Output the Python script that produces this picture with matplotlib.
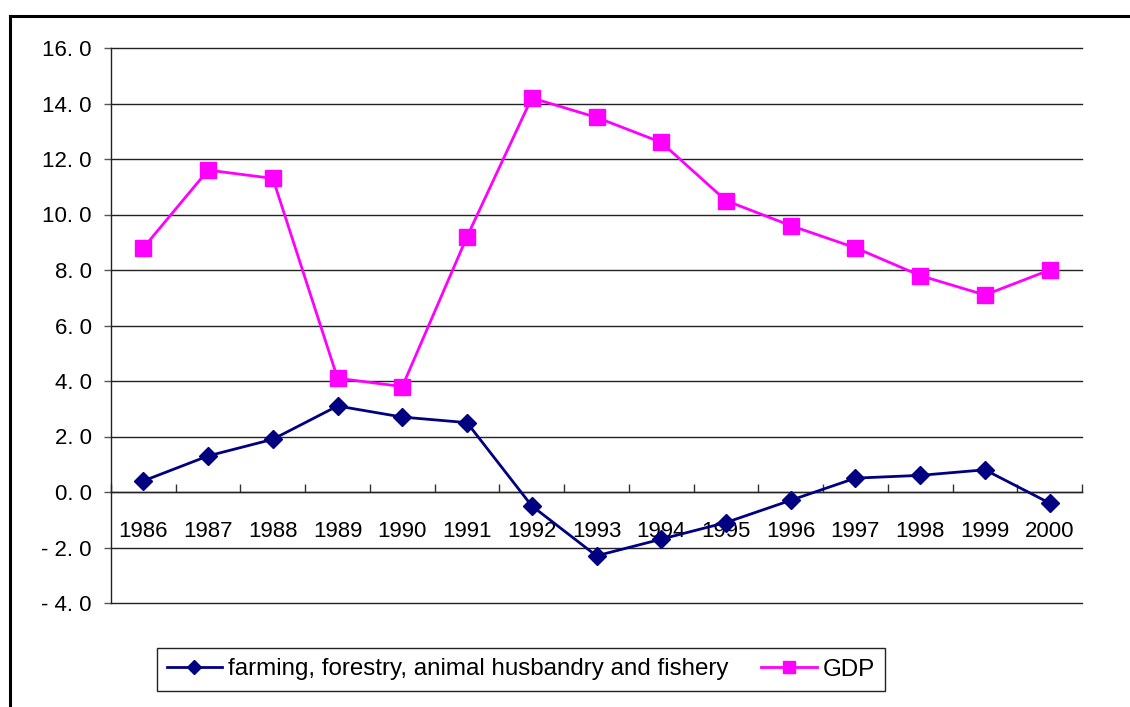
import matplotlib
matplotlib.use("Agg")
import matplotlib.pyplot as plt
from matplotlib.lines import Line2D

plt.rcParams["font.family"] = ["Liberation Sans", "DejaVu Sans"]

years = ["1986", "1987", "1988", "1989", "1990", "1991", "1992", "1993",
         "1994", "1995", "1996", "1997", "1998", "1999", "2000"]
farming = [0.4, 1.3, 1.9, 3.1, 2.7, 2.5, -0.5, -2.3, -1.7, -1.1, -0.3, 0.5, 0.6, 0.8, -0.4]
gdp = [8.8, 11.6, 11.3, 4.1, 3.8, 9.2, 14.2, 13.5, 12.6, 10.5, 9.6, 8.8, 7.8, 7.1, 8.0]
y_ticks = [-4.0, -2.0, 0.0, 2.0, 4.0, 6.0, 8.0, 10.0, 12.0, 14.0, 16.0]

W, H = 1130, 707


def fmt(v):
    s = f"{abs(v):.1f}".replace(".", ". ")
    return ("- " + s) if v < 0 else s


def main():
    fig = plt.figure(figsize=(W / 100, H / 100), dpi=100)
    ax = fig.add_axes([111 / W, (H - 603) / H, 971 / W, 555 / H])

    x = list(range(len(years)))
    ax.plot(x, farming, color="#000080", lw=2.0, marker="D", ms=9,
            label="farming, forestry, animal husbandry and fishery", zorder=3)
    ax.plot(x, gdp, color="#FF00FF", lw=2.0, marker="s", ms=11.5,
            label="GDP", zorder=3)

    ax.set_xlim(-0.5, len(years) - 0.5)
    ax.set_ylim(-4, 16)

    # horizontal grid
    ax.set_yticks(y_ticks)
    ax.set_yticklabels([fmt(v) for v in y_ticks], fontsize=16)
    ax.yaxis.grid(True, color="#222222", lw=1.0)
    for gl in ax.get_ygridlines():
        gl.set_clip_on(False)
    ax.set_axisbelow(True)
    ax.tick_params(axis="y", length=5, width=1.0, color="#555555", pad=9)

    # category axis sits on the zero line
    ax.spines["bottom"].set_position(("data", 0))
    ax.spines["top"].set_visible(False)
    ax.spines["right"].set_visible(False)
    for s in ("bottom", "left"):
        ax.spines[s].set_color("#222222")
        ax.spines[s].set_linewidth(1.0)
    ax.set_xticks([i - 0.5 for i in range(len(years) + 1)])
    ax.set_xticklabels([])
    ax.set_xticks(x, minor=True)
    ax.set_xticklabels(years, minor=True, fontsize=16)
    ax.tick_params(axis="x", which="major", direction="in", length=6,
                   width=1.0, color="#333333")
    ax.tick_params(axis="x", which="minor", length=0, pad=21)

    fig.legend(loc="center", bbox_to_anchor=(521 / W, (H - 669.5) / H),
               ncol=2, fontsize=17.4, frameon=True, fancybox=False,
               edgecolor="#222222", framealpha=1, handlelength=2.3,
               handletextpad=0.25, columnspacing=1.35, borderpad=0.42,
               borderaxespad=0, markerscale=0.75)

    # chart border, top and left edges
    fig.add_artist(Line2D([10 / W, 1.0], [(H - 16) / H] * 2,
                          transform=fig.transFigure, color="black", lw=2.2))
    fig.add_artist(Line2D([10 / W] * 2, [0, (H - 16) / H],
                          transform=fig.transFigure, color="black", lw=2.2))

    fig.savefig("out.png", dpi=100)
    plt.close(fig)


if __name__ == "__main__":
    main()
